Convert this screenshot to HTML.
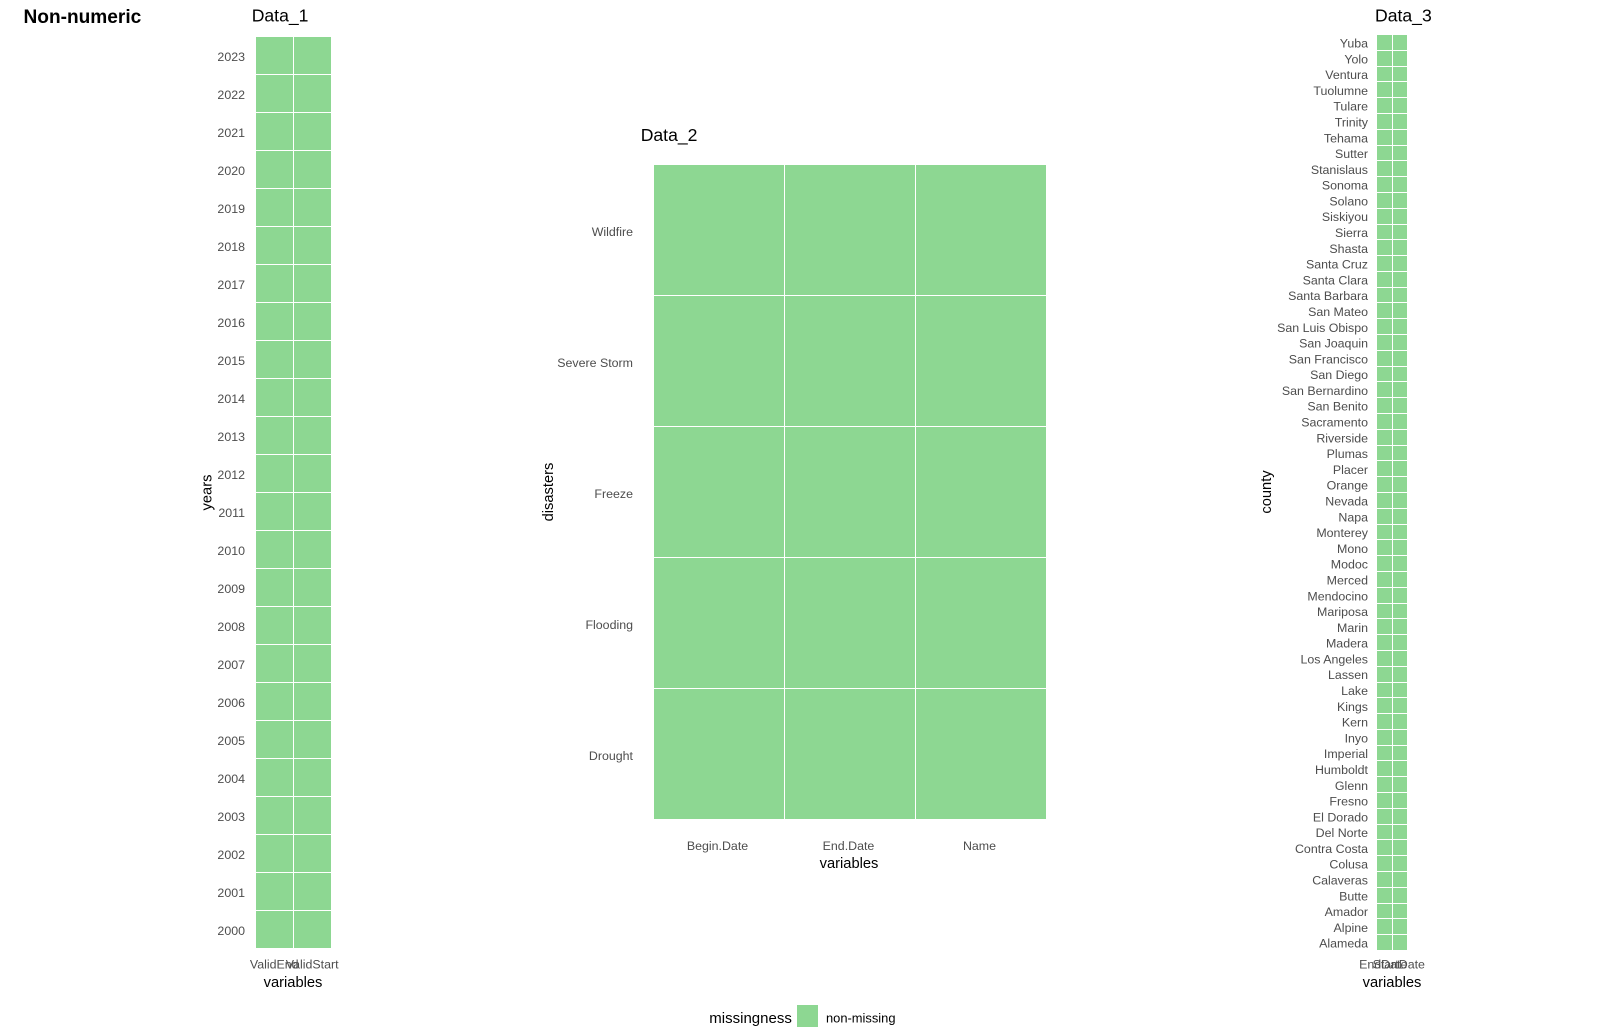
<!DOCTYPE html>
<html lang="en">
<head>
<meta charset="utf-8">
<title>Non-numeric missingness</title>
<style>
html,body{margin:0;padding:0;background:#fff;}
svg{display:block;font-family:"Liberation Sans",Arial,sans-serif;}
.tick{font-size:12.4px;fill:#4d4d4d;}
.axis-title{font-size:14.7px;fill:#000;}
.plot-title{font-size:17.6px;fill:#000;}
</style>
</head>
<body>
<svg id="chart" width="1600" height="1035" viewBox="0 0 1600 1035" xmlns="http://www.w3.org/2000/svg">
  <text x="23.5" y="23.2" font-size="19.1" font-weight="700" fill="#000">Non-numeric</text>
  <rect x="797" y="1005" width="21" height="22" fill="#8dd792"></rect>
  <text x="709.3" y="1023.2" font-size="15" fill="#000">missingness</text>
  <text x="826" y="1022.3" font-size="12.9" fill="#000">non-missing</text>
</svg>
<script>
const data1Years = ['2023','2022','2021','2020','2019','2018','2017','2016','2015','2014','2013','2012','2011','2010','2009','2008','2007','2006','2005','2004','2003','2002','2001','2000'];
const data1Variables = ['ValidEnd','ValidStart'];
const data1MissingCells = [];

const data2Disasters = ['Wildfire','Severe Storm','Freeze','Flooding','Drought'];
const data2Variables = ['Begin.Date','End.Date','Name'];
const data2MissingCells = [];

const data3Counties = ['Yuba','Yolo','Ventura','Tuolumne','Tulare','Trinity','Tehama','Sutter','Stanislaus','Sonoma','Solano','Siskiyou','Sierra','Shasta','Santa Cruz','Santa Clara','Santa Barbara','San Mateo','San Luis Obispo','San Joaquin','San Francisco','San Diego','San Bernardino','San Benito','Sacramento','Riverside','Plumas','Placer','Orange','Nevada','Napa','Monterey','Mono','Modoc','Merced','Mendocino','Mariposa','Marin','Madera','Los Angeles','Lassen','Lake','Kings','Kern','Inyo','Imperial','Humboldt','Glenn','Fresno','El Dorado','Del Norte','Contra Costa','Colusa','Calaveras','Butte','Amador','Alpine','Alameda'];
const data3Variables = ['EndDate','StartDate'];
const data3MissingCells = [];

const NS = 'http://www.w3.org/2000/svg';
const svg = document.getElementById('chart');
const COLOR_PRESENT = '#8dd792';
const COLOR_MISSING = '#7f7f7f';

function bandScale(count, start, end) {
  const step = (end - start) / count;
  return function (i) { return start + i * step; };
}

function addText(parent, cls, x, y, anchor, content, transform) {
  const t = document.createElementNS(NS, 'text');
  t.setAttribute('class', cls);
  t.setAttribute('x', x);
  t.setAttribute('y', y);
  t.setAttribute('text-anchor', anchor);
  if (transform) t.setAttribute('transform', transform);
  t.textContent = content;
  parent.appendChild(t);
  return t;
}

function drawPanel(id, title, rows, cols, missing, yTitle, box, label) {
  const g = document.createElementNS(NS, 'g');
  
  
  svg.appendChild(g);

  const xAt = bandScale(cols.length, box.left, box.right);
  const yAt = bandScale(rows.length, box.top, box.bottom);

  rows.forEach(function (rowName, r) {
    const y0 = Math.round(yAt(r));
    const y1 = Math.round(yAt(r + 1));
    cols.forEach(function (colName, c) {
      const x0 = Math.round(xAt(c));
      const x1 = Math.round(xAt(c + 1));
      const isMissing = missing.some(function (m) { return m[0] === rowName && m[1] === colName; });
      const cell = document.createElementNS(NS, 'rect');
      cell.setAttribute('x', x0);
      cell.setAttribute('y', y0);
      cell.setAttribute('width', x1 - x0 - 1);
      cell.setAttribute('height', y1 - y0 - 1);
      cell.setAttribute('fill', isMissing ? COLOR_MISSING : COLOR_PRESENT);
      cell.setAttribute('shape-rendering', 'crispEdges');
      
      
      g.appendChild(cell);
    });
    const rowTick = addText(g, 'tick', label.rowRight, (yAt(r) + yAt(r + 1)) / 2 + label.rowOffset, 'end', rowName);
    
    
  });

  cols.forEach(function (colName, c) {
    const colTick = addText(g, 'tick', (xAt(c) + xAt(c + 1)) / 2 + label.colShift, label.colBaseline, 'middle', colName);
    
    
  });

  const heading = addText(g, 'plot-title', label.titleX, label.titleY, 'start', title);
  
  

  const xTitle = addText(g, 'axis-title', label.xTitleX, label.xTitleY, 'middle', 'variables');
  
  

  const yAxisTitle = addText(g, 'axis-title', 0, 0, 'middle', yTitle,
    'translate(' + label.yTitleX + ' ' + label.yTitleY + ') rotate(-90)');
  
  
}

drawPanel('data-1', 'Data_1', data1Years, data1Variables, data1MissingCells, 'years',
  { left: 256, right: 332, top: 37, bottom: 949 },
  { rowRight: 245, rowOffset: 5, colBaseline: 968.5, colShift: -0.8, titleX: 251.7, titleY: 21.7, xTitleX: 293, xTitleY: 987, yTitleX: 211.5, yTitleY: 492.5 });

drawPanel('data-2', 'Data_2', data2Disasters, data2Variables, data2MissingCells, 'disasters',
  { left: 654, right: 1047, top: 165, bottom: 820 },
  { rowRight: 633, rowOffset: 5.7, colBaseline: 850, colShift: -2, titleX: 640.7, titleY: 141, xTitleX: 849, xTitleY: 868, yTitleX: 553, yTitleY: 492 });

drawPanel('data-3', 'Data_3', data3Counties, data3Variables, data3MissingCells, 'county',
  { left: 1377, right: 1408, top: 35, bottom: 951 },
  { rowRight: 1368, rowOffset: 4.6, colBaseline: 968.5, colShift: -1.5, titleX: 1375, titleY: 21.7, xTitleX: 1392, xTitleY: 987, yTitleX: 1271, yTitleY: 492 });
</script>
</body>
</html>
